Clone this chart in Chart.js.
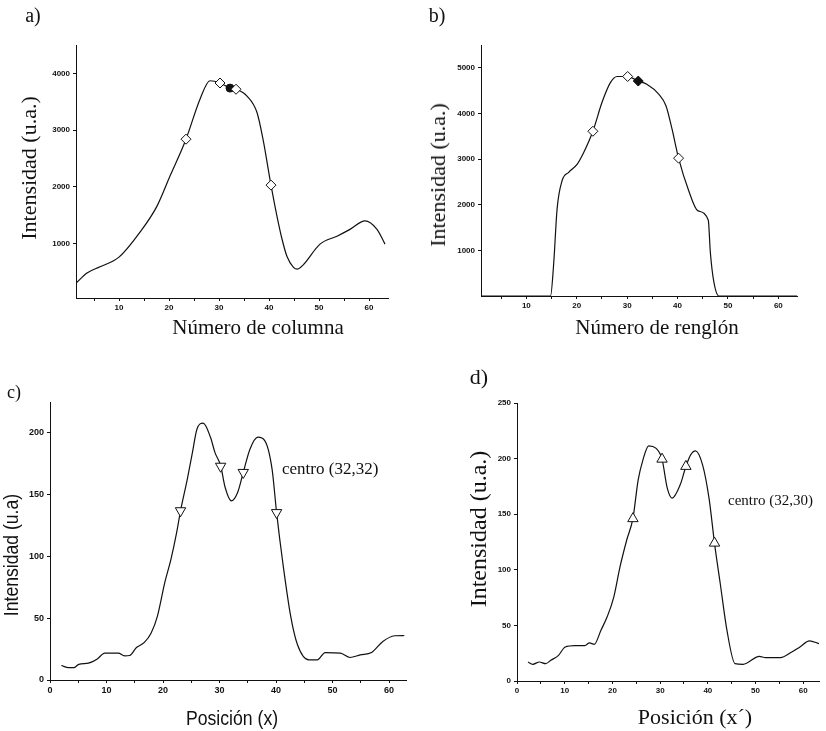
<!DOCTYPE html>
<html lang="es">
<head>
  <meta charset="UTF-8" />
  <title>Perfiles de intensidad</title>
  <script src="https://cdn.jsdelivr.net/npm/chart.js"></script>
  <style>
    body { margin: 0; background: #fff; }
    #page { position: relative; width: 826px; height: 731px; overflow: hidden; }
    canvas { position: absolute; }
    .t { position: absolute; white-space: nowrap; transform: translate(-50%, -50%);
         font-family: "Liberation Serif", "Times New Roman", serif; color: #111; line-height: 1; }
    .v { transform: translate(-50%, -50%) rotate(-90deg); }
    .sans { font-family: "Liberation Sans Narrow", "Liberation Sans", Arial, sans-serif;
            transform: translate(-50%, -50%) scaleX(0.84); }
    .v.sans { transform: translate(-50%, -50%) rotate(-90deg) scaleX(0.88); }
    .l { transform: translate(0, -50%); }
  </style>
</head>
<body>
<div id="page">
  <canvas id="chartA" width="413" height="345" style="left:0;top:0"></canvas>
  <canvas id="chartB" width="413" height="345" style="left:413px;top:0"></canvas>
  <canvas id="chartC" width="413" height="386" style="left:0;top:345px"></canvas>
  <canvas id="chartD" width="413" height="386" style="left:413px;top:345px"></canvas>

  <div class="t" style="left:33px;top:15px;font-size:20px">a)</div>
  <div class="t" style="left:437px;top:15px;font-size:20px">b)</div>
  <div class="t" style="left:14px;top:392px;font-size:18px">c)</div>
  <div class="t" style="left:479px;top:377px;font-size:22px">d)</div>

  <div class="t" style="left:258px;top:327px;font-size:21px">Número de columna</div>
  <div class="t v" style="left:29px;top:168px;font-size:22px">Intensidad (u.a.)</div>
  <div class="t" style="left:657px;top:327px;font-size:21px">Número de renglón</div>
  <div class="t v" style="left:438px;top:175px;font-size:22px">Intensidad (u.a.)</div>
  <div class="t sans" style="left:232px;top:717px;font-size:21px">Posición (x)</div>
  <div class="t v sans" style="left:11px;top:555px;font-size:20px">Intensidad (u.a)</div>
  <div class="t" style="left:695px;top:717px;font-size:22px">Posición (x´)</div>
  <div class="t v" style="left:478px;top:529px;font-size:24px">Intensidad (u.a.)</div>

  <div class="t l" style="left:282px;top:468px;font-size:17px">centro (32,32)</div>
  <div class="t l" style="left:728px;top:500px;font-size:15px">centro (32,30)</div>
</div>

<script>
  // a) perfil por columna
  const colX = [1.4, 3.6, 6.2, 10, 14.2, 17.6, 20.2, 23.4, 26.2, 28.2, 30.2, 32.2, 33.4, 35.6, 37.6, 38.8, 40.4, 41.6, 42.6, 43.6, 44.9, 45.7, 46.8, 50.2, 53.6, 56.2, 59.2, 61.6, 63.2];
  const colY = [300, 480, 590, 760, 1200, 1660, 2190, 2840, 3545, 3870, 3830, 3740, 3720, 3600, 3310, 2840, 2030, 1480, 1080, 770, 580, 550, 620, 990, 1130, 1250, 1400, 1250, 990];
  const colMarkX = [23.4, 30.2, 33.4, 40.4];
  const colMarkY = [2840, 3830, 3720, 2030];
  const colCenterX = [32.2];
  const colCenterY = [3740];
  const colYTicks = [1000, 2000, 3000, 4000];

  // b) perfil por renglon
  const rowX = [1, 14.8, 15.4, 16.1, 17.1, 18.4, 20.1, 21.4, 23.2, 25.0, 26.7, 28.0, 30.1, 32.2, 33.9, 36.3, 37.7, 38.9, 40.2, 42.2, 44.0, 46.1, 46.5, 47.2, 48.2, 63.7];
  const rowY = [0, 0, 673, 1910, 2530, 2710, 2890, 3150, 3610, 4240, 4680, 4810, 4810, 4710, 4640, 4420, 4170, 3660, 3020, 2310, 1870, 1660, 965, 310, 0, 0];
  const rowMarkX = [23.2, 30.1, 40.2];
  const rowMarkY = [3610, 4810, 3020];
  const rowCenterX = [32.2];
  const rowCenterY = [4710];
  const rowYTicks = [1000, 2000, 3000, 4000, 5000];

  // c) posicion x
  const posX = [2.0, 3.3, 4.2, 5.1, 6.8, 8.3, 9.7, 12.1, 13.2, 14.1, 15.3, 16.7, 17.9, 19.0, 20.3, 21.4, 22.4, 23.1, 24.3, 25.2, 26.0, 27.1, 28.4, 29.2, 30.2, 31.0, 32.1, 33.2, 34.2, 35.4, 36.8, 38.0, 39.3, 40.1, 41.2, 42.6, 43.8, 45.8, 47.3, 48.7, 51.4, 53.1, 54.9, 56.9, 58.9, 61.0, 62.7];
  const posY = [11.7, 10, 10, 12.7, 13.6, 16.8, 21.7, 21.7, 19.5, 19.8, 26.3, 30.4, 38, 51.5, 78.6, 97.6, 119, 136.9, 162.6, 184, 203, 207.9, 196.5, 184, 173.4, 155.8, 145, 151.8, 168, 187, 196.5, 193.8, 170.7, 135.5, 94.9, 51.5, 28.5, 16.3, 16.3, 22.2, 21.7, 18.2, 20.3, 22.2, 31.2, 35.8, 36];
  const posMarkX = [23.1, 30.2, 34.2, 40.1];
  const posMarkY = [137, 173, 168, 135.5];
  const posYTicks = [0, 50, 100, 150, 200];

  // d) posicion x'
  const pos2X = [2.3, 3.3, 4.7, 6.0, 7.1, 8.7, 10.1, 12.1, 14.2, 15.2, 16.2, 17.6, 18.9, 20.3, 21.6, 23.0, 24.3, 25.4, 26.4, 27.6, 29.1, 30.4, 31.5, 32.5, 34.2, 35.4, 36.4, 37.4, 38.9, 40.3, 41.4, 42.6, 44.0, 45.7, 47.4, 50.8, 52.1, 55.2, 57.6, 59.3, 61.3, 63.3];
  const pos2Y = [17.1, 15, 17.1, 15.6, 18.6, 23.1, 30.6, 31.9, 31.9, 34.3, 33, 45.7, 57.7, 75.7, 102.8, 126.8, 146.3, 180.9, 198.9, 211.5, 209.4, 199.5, 173.4, 164.4, 176.4, 192.9, 203.4, 207, 194.4, 162.9, 123.8, 87.7, 45.7, 15.6, 15, 22.2, 21, 21, 26.1, 30.6, 36, 33.6];
  const pos2MarkX = [24.3, 30.4, 35.4, 41.4];
  const pos2MarkY = [146, 199.5, 193, 124];
  const pos2YTicks = [0, 50, 100, 150, 200, 250];

  // x ticks: labelled every 10, small marks every 5
  const xTicksFrom5 = [5, 10, 15, 20, 25, 30, 35, 40, 45, 50, 55, 60];
  const xTicksFrom0 = [0, 5, 10, 15, 20, 25, 30, 35, 40, 45, 50, 55, 60];

  const tickFont = { family: '"Liberation Sans Narrow", "Liberation Sans", Arial, sans-serif', size: 9, weight: 'bold' };

  function pts(xs, ys) {
    return xs.map((x, i) => ({ x: x, y: ys[i] }));
  }

  function curve(xs, ys) {
    return {
      data: pts(xs, ys), borderColor: '#111', borderWidth: 1.2, pointRadius: 0,
      cubicInterpolationMode: 'monotone', order: 2
    };
  }

  function marks(xs, ys, style, fill, rot, r) {
    return {
      data: pts(xs, ys), showLine: false, pointStyle: style, pointRadius: r,
      pointRotation: rot, backgroundColor: fill, borderColor: '#111', borderWidth: 1, order: 1
    };
  }

  function makeChart(id, datasets, s) {
    new Chart(document.getElementById(id), {
      type: 'line',
      data: { datasets: datasets },
      options: {
        responsive: false,
        animation: false,
        layout: { padding: { top: s.top, right: s.right, left: 0, bottom: 0 } },
        plugins: { legend: { display: false }, tooltip: { enabled: false } },
        scales: {
          x: {
            type: 'linear', min: s.xMin, max: s.xMax,
            afterFit: (sc) => { sc.height = s.xH; },
            afterBuildTicks: (sc) => { sc.ticks = s.xTicks.map(v => ({ value: v })); },
            border: { color: '#111', width: 1 },
            grid: { drawOnChartArea: false, color: '#111', tickLength: 3 },
            ticks: {
              autoSkip: false, maxRotation: 0, padding: 2,
              color: '#111', font: { ...tickFont, size: s.fs },
              callback: (v) => (v % 10 === 0) ? String(v) : ''
            }
          },
          y: {
            type: 'linear', min: s.yMin, max: s.yMax,
            afterFit: (sc) => { sc.width = s.yW; },
            afterBuildTicks: (sc) => { sc.ticks = s.yTicks.map(v => ({ value: v })); },
            border: { color: '#111', width: 1 },
            grid: { drawOnChartArea: false, color: '#111', tickLength: 3 },
            ticks: {
              autoSkip: false, padding: 3,
              color: '#111', font: { ...tickFont, size: s.fs },
              callback: (v) => String(v)
            }
          }
        }
      }
    });
  }

  makeChart('chartA', [
    curve(colX, colY),
    marks(colMarkX, colMarkY, 'rectRot', '#fff', 0, 5),
    marks(colCenterX, colCenterY, 'circle', '#111', 0, 4)
  ], { top: 45, right: 25, yW: 76, xH: 47, xMin: 1.4, xMax: 63.8, yMin: 40, yMax: 4500,
       xTicks: xTicksFrom5, yTicks: colYTicks, fs: 8 });

  makeChart('chartB', [
    curve(rowX, rowY),
    marks(rowMarkX, rowMarkY, 'rectRot', '#fff', 0, 5),
    marks(rowCenterX, rowCenterY, 'rectRot', '#111', 0, 5)
  ], { top: 45, right: 29, yW: 68, xH: 49, xMin: 1, xMax: 63.7, yMin: 0, yMax: 5500,
       xTicks: xTicksFrom5, yTicks: rowYTicks, fs: 8 });

  makeChart('chartC', [
    curve(posX, posY),
    marks(posMarkX, posMarkY, 'triangle', '#fff', 180, 6)
  ], { top: 57, right: 3, yW: 50, xH: 51, xMin: 0, xMax: 63, yMin: 0, yMax: 225,
       xTicks: xTicksFrom0, yTicks: posYTicks, fs: 9 });

  makeChart('chartD', [
    curve(pos2X, pos2Y),
    marks(pos2MarkX, pos2MarkY, 'triangle', '#fff', 0, 6)
  ], { top: 58, right: 0, yW: 104, xH: 50, xMin: 0, xMax: 63.3, yMin: 0, yMax: 250,
       xTicks: xTicksFrom0, yTicks: pos2YTicks, fs: 8 });
</script>
</body>
</html>
